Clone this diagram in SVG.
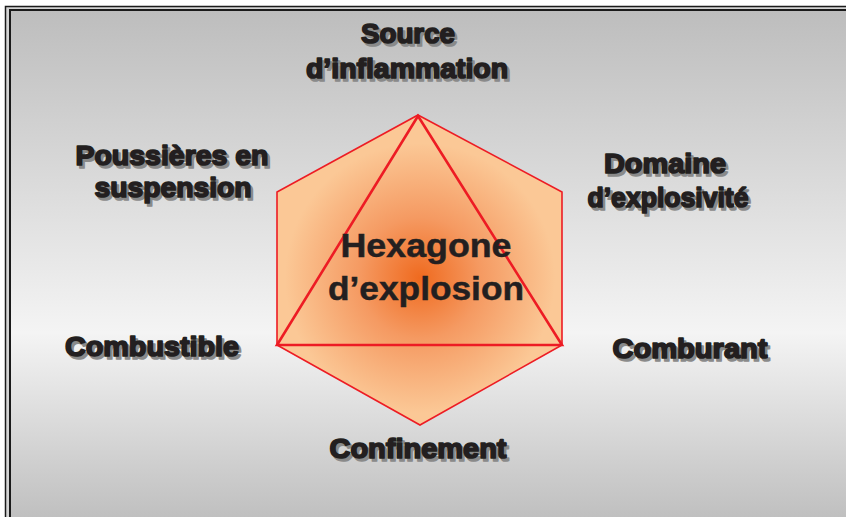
<svg xmlns="http://www.w3.org/2000/svg" width="846" height="517" viewBox="0 0 846 517">
  <defs>
    <linearGradient id="bg" x1="0" y1="0" x2="0" y2="1">
      <stop offset="0" stop-color="#bdbdbd"/>
      <stop offset="0.62" stop-color="#f4f4f4"/>
      <stop offset="1" stop-color="#bcbcbc"/>
    </linearGradient>
    <radialGradient id="glow" gradientUnits="userSpaceOnUse" cx="420" cy="278" r="135">
      <stop offset="0" stop-color="#ef6a1f"/>
      <stop offset="0.45" stop-color="#f59a62"/>
      <stop offset="1" stop-color="#fbc896"/>
    </radialGradient>
    <style>
      .lbl { font-family: "Liberation Sans", Arial, sans-serif; font-weight: bold; font-size: 28px; text-anchor: middle; stroke-width: 1.7px; stroke-linejoin: round; }
      .txt { fill: #231f20; stroke: #231f20; }
      .sh { fill: #8a8a8a; stroke: #8a8a8a; }
      .center { font-family: "Liberation Sans", Arial, sans-serif; font-weight: bold; font-size: 34px; text-anchor: middle; fill: #231f20; stroke: #231f20; stroke-width: 0.5px; }
      .hex { fill: url(#glow); stroke: #ed1c24; stroke-width: 1.6; stroke-linejoin: miter; }
      .tri { fill: none; stroke: #ed1c24; stroke-width: 2.6; stroke-linejoin: miter; }
    </style>
  </defs>

  <!-- background and frame -->
  <rect x="0" y="0" width="846" height="517" fill="#ffffff"/>
  <rect x="5.5" y="6.5" width="850" height="520" fill="#d4d4d4" stroke="#1a1a1a" stroke-width="1.5"/>
  <rect x="10" y="10" width="850" height="520" fill="url(#bg)" stroke="#1a1a1a" stroke-width="2"/>

  <g id="hexagon">
    <polygon class="hex" points="418,115 562,192 562,345 420,425 277,345 277,192"/>
  </g>

  <g id="connectors">
    <polygon class="tri" points="418,116 277,345 562,345"/>
  </g>

  <g id="center-label">
    <text class="center" x="426" y="257" textLength="171" lengthAdjust="spacingAndGlyphs">Hexagone</text>
    <text class="center" x="426" y="300" textLength="196" lengthAdjust="spacingAndGlyphs">d’explosion</text>
  </g>

  <g id="source">
    <text class="lbl sh" x="410.5" y="45.5" textLength="94" lengthAdjust="spacingAndGlyphs">Source</text>
    <text class="lbl txt" x="408" y="43" textLength="94" lengthAdjust="spacingAndGlyphs">Source</text>
    <text class="lbl sh" x="409.5" y="80.5" textLength="202" lengthAdjust="spacingAndGlyphs">d’inflammation</text>
    <text class="lbl txt" x="407" y="78" textLength="202" lengthAdjust="spacingAndGlyphs">d’inflammation</text>
  </g>

  <g id="poussieres">
    <text class="lbl sh" x="174.5" y="167.5" textLength="193" lengthAdjust="spacingAndGlyphs">Poussières en</text>
    <text class="lbl txt" x="172" y="165" textLength="193" lengthAdjust="spacingAndGlyphs">Poussières en</text>
    <text class="lbl sh" x="175.5" y="199.5" textLength="157" lengthAdjust="spacingAndGlyphs">suspension</text>
    <text class="lbl txt" x="173" y="197" textLength="157" lengthAdjust="spacingAndGlyphs">suspension</text>
  </g>

  <g id="domaine">
    <text class="lbl sh" x="667.5" y="175.5" textLength="122" lengthAdjust="spacingAndGlyphs">Domaine</text>
    <text class="lbl txt" x="665" y="173" textLength="122" lengthAdjust="spacingAndGlyphs">Domaine</text>
    <text class="lbl sh" x="670.5" y="209.5" textLength="161" lengthAdjust="spacingAndGlyphs">d’explosivité</text>
    <text class="lbl txt" x="668" y="207" textLength="161" lengthAdjust="spacingAndGlyphs">d’explosivité</text>
  </g>

  <g id="combustible">
    <text class="lbl sh" x="154.5" y="358.5" textLength="174" lengthAdjust="spacingAndGlyphs">Combustible</text>
    <text class="lbl txt" x="152" y="356" textLength="174" lengthAdjust="spacingAndGlyphs">Combustible</text>
  </g>

  <g id="comburant">
    <text class="lbl sh" x="692.5" y="360.5" textLength="155" lengthAdjust="spacingAndGlyphs">Comburant</text>
    <text class="lbl txt" x="690" y="358" textLength="155" lengthAdjust="spacingAndGlyphs">Comburant</text>
  </g>

  <g id="confinement">
    <text class="lbl sh" x="420.5" y="460.5" textLength="177" lengthAdjust="spacingAndGlyphs">Confinement</text>
    <text class="lbl txt" x="418" y="458" textLength="177" lengthAdjust="spacingAndGlyphs">Confinement</text>
  </g>
</svg>
